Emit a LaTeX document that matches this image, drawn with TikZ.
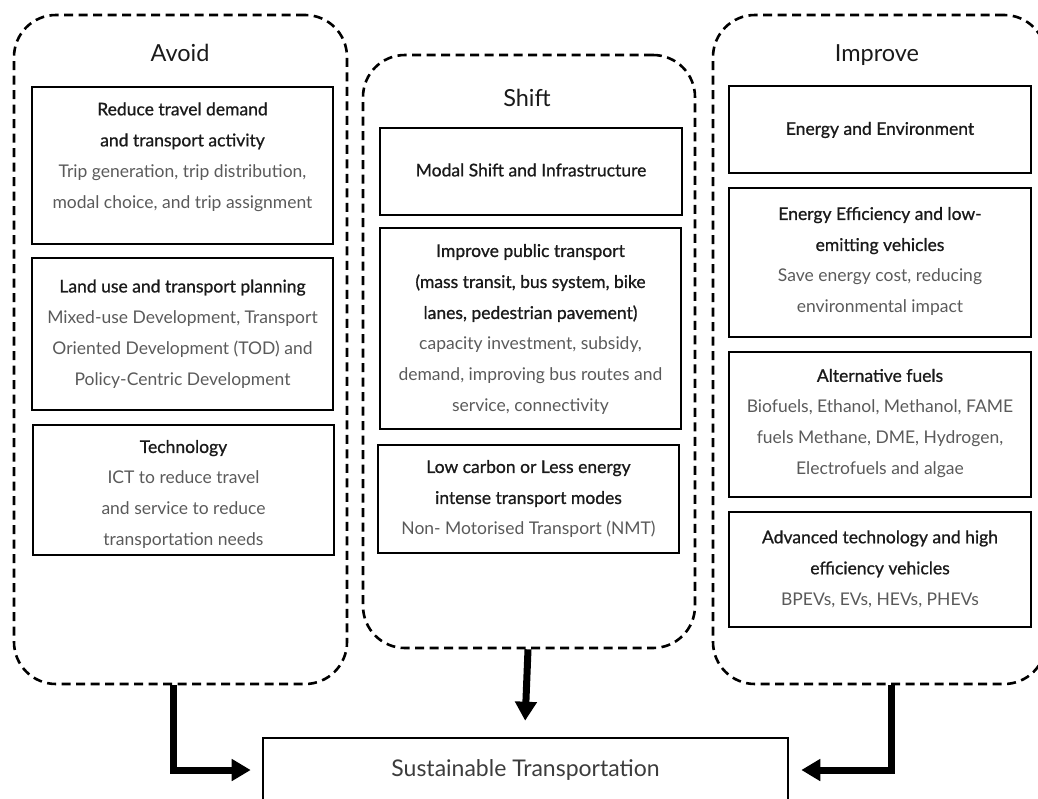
\documentclass[tikz,border=0pt]{standalone}
\usepackage{fontspec}
\setmainfont{Lato}
\usetikzlibrary{arrows.meta}
\definecolor{hd}{HTML}{1A1A1A}
\definecolor{bd}{HTML}{5A5A5A}
\newcommand\hdt[1]{{\color{hd}\addfontfeature{FakeBold=0.9}#1}}
\tikzset{
  group/.style={draw, line width=2.6pt, dash pattern=on 9pt off 5.5pt, rounded corners=42pt, minimum width=#1, inner sep=0pt},
  cell/.style={draw, line width=2.6pt, minimum width=301pt, inner sep=0pt},
  ttl/.style={font=\fontsize{23.5}{27}\selectfont, text=hd, inner sep=0pt},
  txt/.style={font=\fontsize{17.5}{31}\selectfont, text=bd, align=center, inner sep=0pt},
  flow/.style={line width=7pt, -{Triangle[length=19pt,width=21pt]}, line join=miter}
}
\begin{document}
\begin{tikzpicture}[x=1pt,y=-1pt]
\useasboundingbox (0,0) rectangle (1038,798);
% containers
\node[group=333pt, minimum height=669pt] (avoid) at (180.5,349.5) {};
\node[group=332pt, minimum height=593pt] (shift) at (529,351.5) {};
\node[group=333pt, minimum height=669pt] (improve) at (879.5,349.5) {};
\node[ttl] (tavoid) at (180,53) {Avoid};
\node[ttl] (tshift) at (527,98) {Shift};
\node[ttl] (timprove) at (877,55) {Improve};
% Avoid boxes
\node[cell, minimum height=157pt] (a1) at (182.5,165.5) {};
\node[txt] (a1t) at (182.5,157) {\hdt{Reduce travel demand}\\\hdt{and transport activity}\\Trip generation, trip distribution,\\modal choice, and trip assignment};
\node[cell, minimum height=152pt] (a2) at (182.5,334) {};
\node[txt] (a2t) at (182.5,334) {\hdt{Land use and transport planning}\\Mixed-use Development, Transport\\Oriented Development (TOD) and\\Policy-Centric Development};
\node[cell, minimum height=130pt] (a3) at (183.5,490) {};
\node[txt] (a3t) at (183.5,494.5) {\hdt{Technology}\\ICT to reduce travel\\and service to reduce\\transportation needs};
% Shift boxes
\node[cell, minimum width=302pt, minimum height=87pt] (s1) at (531,171.5) {};
\node[txt] (s1t) at (531,170) {\hdt{Modal Shift and Infrastructure}};
\node[cell, minimum height=201pt] (s2) at (530.5,328.5) {};
\node[txt] (s2t) at (530.5,329.5) {\hdt{Improve public transport}\\\hdt{(mass transit, bus system, bike}\\\hdt{lanes, pedestrian pavement)}\\capacity investment, subsidy,\\demand, improving bus routes and\\service, connectivity};
\node[cell, minimum height=108pt] (s3) at (528.5,499) {};
\node[txt] (s3t) at (528.5,499) {\hdt{Low carbon or Less energy}\\\hdt{intense transport modes}\\Non- Motorised Transport (NMT)};
% Improve boxes
\node[cell, minimum width=302pt, minimum height=87pt] (i1) at (880,129.5) {};
\node[txt] (i1t) at (880,130) {\hdt{Energy and Environment}};
\node[cell, minimum width=302pt, minimum height=149pt] (i2) at (880,262.5) {};
\node[txt] (i2t) at (880,261.5) {\hdt{Energy Efficiency and low-}\\\hdt{emitting vehicles}\\Save energy cost, reducing\\environmental impact};
\node[cell, minimum width=302pt, minimum height=145pt] (i3) at (880,424.5) {};
\node[txt] (i3t) at (880,423.5) {\hdt{Alternative fuels}\\Biofuels, Ethanol, Methanol, FAME\\fuels Methane, DME, Hydrogen,\\Electrofuels and algae};
\node[cell, minimum width=302pt, minimum height=115pt] (i4) at (880,569.5) {};
\node[txt] (i4t) at (880,569) {\hdt{Advanced technology and high}\\\hdt{efficiency vehicles}\\BPEVs, EVs, HEVs, PHEVs};
% target
\node[cell, minimum width=525pt, minimum height=82pt] (st) at (525.5,779) {};
\node[txt, font=\fontsize{23}{26}\selectfont, text=hd!85] (stt) at (525.5,770) {Sustainable Transportation};
% arrows
\draw[flow, shorten >=11pt] ([xshift=-7.5pt]avoid.south) |- ([yshift=9pt]st.west);
\draw[flow, shorten >=16pt] ([xshift=-1pt]shift.south) -- ([xshift=-1pt]st.north);
\draw[flow, shorten >=12pt] ([xshift=11.5pt]improve.south) |- ([yshift=9pt]st.east);
\end{tikzpicture}
\end{document}
